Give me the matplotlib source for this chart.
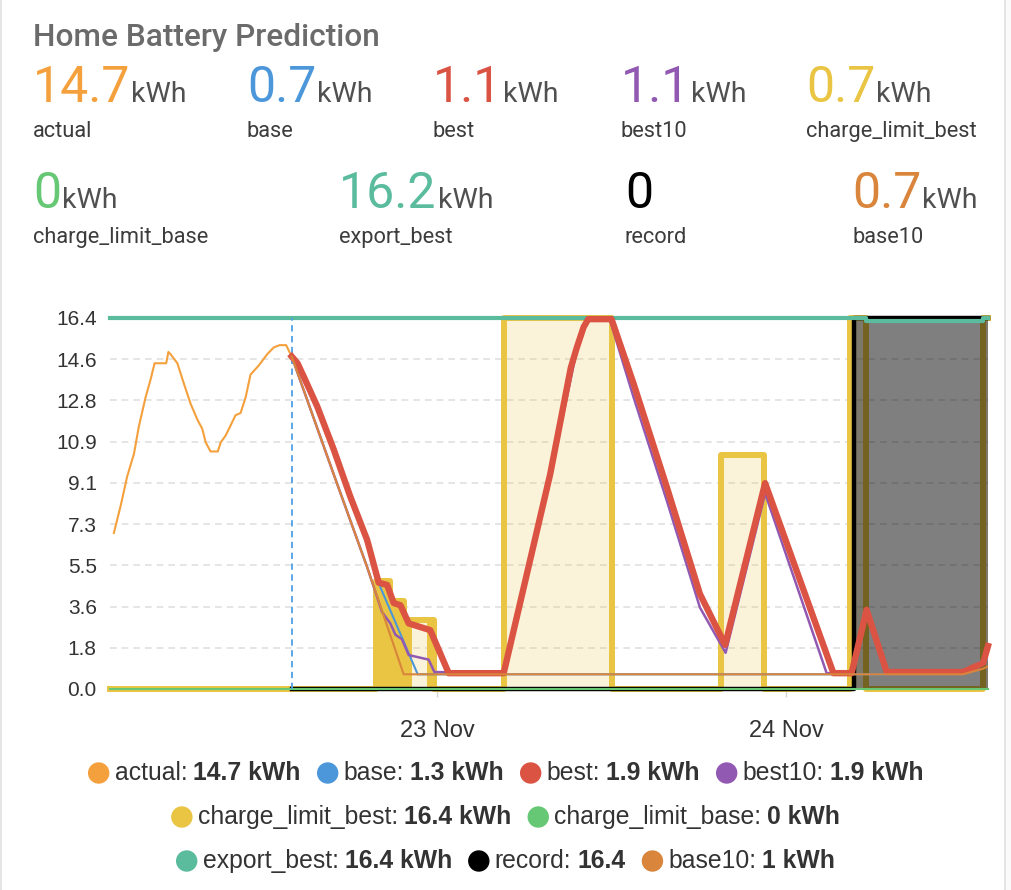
import numpy as np
import matplotlib
matplotlib.use("Agg")
import matplotlib.pyplot as plt
import matplotlib.dates as mdates
from matplotlib import transforms
from matplotlib.patches import FancyBboxPatch, Circle

# ---- data (hours relative to 23 Nov 00:00) ----
day0 = np.datetime64("2023-11-23T00:00")
x_start_h, x_end_h = -22.5, 37.9
now_h = -10.0

actual_h = [-22.23, -21.77, -21.31, -20.85, -20.51, -20.05, -19.70, -19.43, -18.63, -18.49,
            -18.33, -17.87, -17.42, -16.95, -16.49, -16.15, -15.92, -15.58, -15.08, -14.89,
            -14.55, -14.32, -13.86, -13.52, -13.17, -12.83, -12.26, -11.68, -11.23, -10.84,
            -10.38, -10.0]
actual_v = [6.9, 8.1, 9.4, 10.4, 11.6, 12.9, 13.7, 14.4, 14.4, 14.9,
            14.8, 14.4, 13.5, 12.6, 11.9, 11.5, 10.9, 10.5, 10.5, 10.9,
            11.2, 11.5, 12.1, 12.2, 12.9, 13.9, 14.3, 14.8, 15.1, 15.2,
            15.2, 14.7]

best_h = [-10.0, -9.6, -9.17, -8.25, -7.11, -5.96, -4.81, -4.01, -3.44, -2.98, -2.52, -1.95,
          -0.46, 0.80, 4.58, 7.79, 9.2, 9.62, 10.08, 10.40, 12.0, 13.51, 15.81, 18.09, 19.81,
          22.56, 27.26, 28.52, 29.55, 30.93, 36.19, 37.57, 37.9]
best_v = [14.7, 14.4, 13.8, 12.5, 10.6, 8.5, 6.6, 4.7, 4.6, 3.8, 3.7, 2.9,
          2.6, 0.7, 0.7, 9.5, 14.2, 15.1, 16.0, 16.35, 16.35, 13.5, 8.9, 4.2, 1.95,
          9.1, 0.7, 0.7, 3.5, 0.75, 0.75, 1.15, 1.9]

base_h = [-10.0, -9.6, -9.17, -8.25, -7.11, -5.96, -4.81, -3.90, -1.33, 36.19, 37.3, 37.9]
base_v = [14.7, 14.4, 13.8, 12.5, 10.6, 8.5, 6.6, 4.5, 0.65, 0.65, 1.2, 1.3]

best10_h = [-10.0, -7.11, -4.81, -3.78, -3.21, -2.87, -2.41, -1.95, -0.58, -0.19, 4.58, 7.79,
            9.62, 10.3, 11.9, 13.51, 15.81, 18.09, 19.85, 22.56, 26.8, 28.52, 29.55, 30.93,
            36.19, 37.57, 37.9]
best10_v = [14.7, 9.5, 5.4, 3.4, 2.9, 2.4, 2.2, 1.5, 1.3, 0.75, 0.7, 9.4,
            15.0, 16.3, 16.3, 12.9, 8.3, 3.6, 1.6, 8.65, 0.7, 0.7, 3.4, 0.75,
            0.75, 1.1, 1.9]

base10_h = [-10.0, -7.11, -4.81, -2.30, 36.19, 37.57, 37.9]
base10_v = [14.7, 9.5, 5.4, 0.65, 0.65, 0.9, 1.0]

# step series
climit_best_h = [-22.5, -4.24, -3.21, -2.25, -0.19, 4.59, 12.01, 19.54, 22.5, 28.44, 29.54, 37.58, 37.9]
climit_best_v = [0, 4.77, 3.9, 3.05, 0, 16.4, 0, 10.34, 0, 16.4, 0, 16.4, 16.4]
climit_dense = [(-4.24, -1.72), (-0.67, -0.19)]   # spans where the limit toggles rapidly

climit_base_h = [-22.5, 37.9]
climit_base_v = [0, 0]

export_h = [-22.5, 29.54, 37.58, 37.9]
export_v = [16.4, 16.25, 16.4, 16.4]

record_h = [-10.0, 28.65, 37.9]
record_v = [0, 16.4, 16.4]

# header stats
stat_names = ["actual", "base", "best", "best10", "charge_limit_best",
              "charge_limit_base", "export_best", "record", "base10"]
stat_values = ["14.7", "0.7", "1.1", "1.1", "0.7", "0", "16.2", "0", "0.7"]
stat_units = ["kWh", "kWh", "kWh", "kWh", "kWh", "kWh", "kWh", "", "kWh"]

# legend
legend_values = ["14.7 kWh", "1.3 kWh", "1.9 kWh", "1.9 kWh", "16.4 kWh",
                 "0 kWh", "16.4 kWh", "16.4", "1 kWh"]
legend_rows = [[0, 1, 2, 3], [4, 5], [6, 7, 8]]

colors = {
    "actual": "#F4A03C", "base": "#4C97DA", "best": "#DB5343", "best10": "#9259B3",
    "charge_limit_best": "#E9C543", "charge_limit_base": "#66C775",
    "export_best": "#5BBB9D", "record": "#000000", "base10": "#D9853C",
}


def to_t(h):
    return day0 + (np.asarray(h, dtype=float) * 60).round().astype(int).astype("timedelta64[m]")


def step_val(hs, vs, x):
    i = np.searchsorted(hs, x, side="right") - 1
    return vs[max(i, 0)]


W, H = 1012, 890
fig = plt.figure(figsize=(W / 100, H / 100), dpi=100, facecolor="#fafafa")
flip = transforms.Affine2D().scale(1, -1).translate(0, H)   # pixel coords from top-left

card = FancyBboxPatch((1, -30), 1004, 940, boxstyle="round,pad=0,rounding_size=22",
                      transform=flip, fc="white", ec="#e0e0e0", lw=1.2, zorder=-10)
fig.add_artist(card)

# ---- header ----
renderer = fig.canvas.get_renderer()
fig.text(33, 46, "Home Battery Prediction", transform=flip, fontsize=22.8,
         family="Roboto", fontweight="medium", color="#6b6b6b", va="baseline")

stat_pos = [(33, 102), (247, 102), (433, 102), (621, 102), (806, 102),
            (33, 208), (339, 208), (625, 208), (852, 208)]
for name, val, unit, (sx, sy) in zip(stat_names, stat_values, stat_units, stat_pos):
    t = fig.text(sx, sy, val, transform=flip, fontsize=36, family="Roboto",
                 color=colors[name], va="baseline")
    if unit:
        w = t.get_window_extent(renderer).width
        fig.text(sx + w + 1, sy, unit, transform=flip, fontsize=20.5, family="Roboto",
                 color="#505050", va="baseline")
    fig.text(sx, sy + 35, name, transform=flip, fontsize=15.7, family="Roboto",
             color="#3c3c3c", va="baseline")

# ---- chart ----
ax = fig.add_axes([110 / W, 1 - 689 / H, 878 / W, 371 / H])
ax.set_facecolor("none")

t_cl = to_t(climit_best_h)
ax.fill_between(t_cl, 0, climit_best_v, step="post", color=colors["charge_limit_best"],
                alpha=0.2, lw=0, zorder=1)
for a, b in climit_dense:
    hs = [a] + [h for h in climit_best_h if a < h < b] + [b]
    vs = [step_val(climit_best_h, climit_best_v, h) for h in hs]
    ax.fill_between(to_t(hs), 0, vs, step="post", color=colors["charge_limit_best"],
                    lw=0, zorder=1.1)
ax.plot(t_cl, climit_best_v, drawstyle="steps-post", color=colors["charge_limit_best"],
        lw=4.3, zorder=1.2, clip_on=False)

t_rec = to_t(record_h)
ax.fill_between(t_rec, 0, record_v, step="post", color="black", alpha=0.5, lw=0, zorder=1.5)
ax.plot(t_rec, record_v, drawstyle="steps-post", color="black", lw=3.2, zorder=1.6,
        clip_on=False)

ax.plot(to_t(climit_base_h), climit_base_v, color=colors["charge_limit_base"], lw=1.5,
        zorder=2, clip_on=False)
ax.plot(to_t(export_h), export_v, drawstyle="steps-post", color=colors["export_best"],
        lw=3.0, zorder=2.1, clip_on=False)

ax.axvline(to_t([now_h])[0], color="#4f9fe6", lw=1.3, ls=(0, (3.5, 2.5)), zorder=2.2)

ax.plot(to_t(actual_h), actual_v, color=colors["actual"], lw=1.5, zorder=3)
ax.plot(to_t(base_h), base_v, color=colors["base"], lw=1.5, zorder=3.1)
ax.plot(to_t(best10_h), best10_v, color=colors["best10"], lw=1.8, zorder=3.2, clip_on=False)
ax.plot(to_t(best_h), best_v, color=colors["best"], lw=4.6, zorder=3.3, clip_on=False,
        solid_joinstyle="round")
ax.plot(to_t(base10_h), base10_v, color=colors["base10"], lw=1.5, zorder=3.4)

ax.set_xlim(to_t([x_start_h])[0], to_t([x_end_h])[0])
ax.set_ylim(0, 16.4)
yt = np.linspace(0, 16.4, 10)
ax.set_yticks(yt)
ax.set_yticklabels([f"{v:.1f}" for v in yt])
ax.yaxis.grid(True, color="#e0e0e0", lw=1.2, ls=(0, (4, 3)), zorder=0.5)
ax.set_axisbelow(True)
ax.xaxis.set_major_locator(mdates.DayLocator())
ax.xaxis.set_major_formatter(mdates.DateFormatter("%d %b"))
for s in ax.spines.values():
    s.set_visible(False)
ax.tick_params(axis="y", length=0, pad=9.5, labelsize=15, labelcolor="#333333")
ax.tick_params(axis="x", length=6, width=1, color="#d5d5d5", pad=16, labelsize=17,
               labelcolor="#333333")
for lab in ax.get_xticklabels() + ax.get_yticklabels():
    lab.set_family("Liberation Sans")

# ---- legend ----
row_y = [773, 817, 861]
lg_font = dict(fontsize=17.8, family="Liberation Sans", color="#333333", va="baseline")
for row, ry in zip(legend_rows, row_y):
    items = []
    for i in row:
        t1 = fig.text(0, 0, stat_names[i] + ":", transform=flip, **lg_font)
        t2 = fig.text(0, 0, legend_values[i], transform=flip, fontweight="bold", **lg_font)
        w1 = t1.get_window_extent(renderer).width
        w2 = t2.get_window_extent(renderer).width
        items.append((i, t1, t2, w1, w2))
    d, g1, g2, gap = 20, 6, 6, 17
    total = sum(d + g1 + w1 + g2 + w2 for _, _, _, w1, w2 in items) + gap * (len(items) - 1)
    x = W / 2 - total / 2
    for i, t1, t2, w1, w2 in items:
        fig.add_artist(Circle((x + d / 2, ry), d / 2, transform=flip,
                              color=colors[stat_names[i]], zorder=5))
        x += d + g1
        t1.set_position((x, ry + 7))
        x += w1 + g2
        t2.set_position((x, ry + 7))
        x += w2 + gap

fig.savefig("out.png", dpi=100, facecolor=fig.get_facecolor())
